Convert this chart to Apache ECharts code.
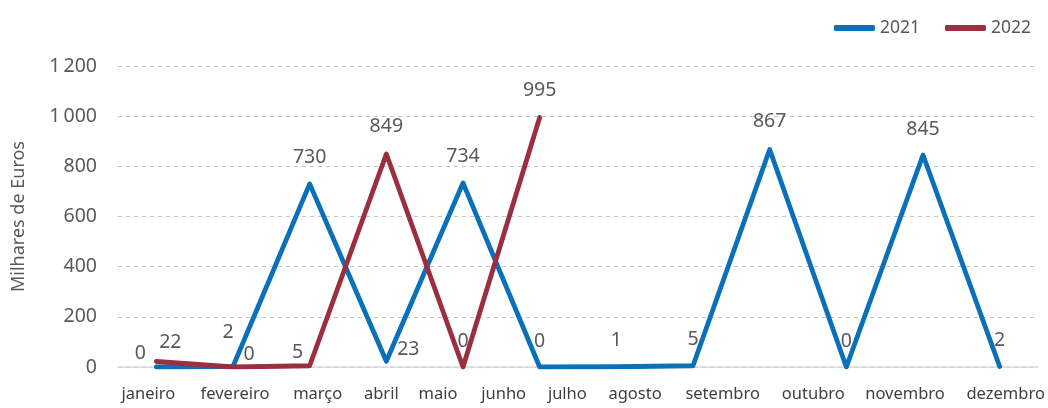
<!DOCTYPE html>
<html>
<head>
<meta charset="utf-8">
<script src="https://cdn.jsdelivr.net/npm/echarts@6/dist/echarts.min.js"></script>
<style>
  html, body { margin: 0; padding: 0; background: #fff; }
  #chart { width: 1048px; height: 408px; }
</style>
</head>
<body>
<div id="chart"></div>
<script>
// dados do gráfico
const meses = ['janeiro', 'fevereiro', 'março', 'abril', 'maio', 'junho',
  'julho', 'agosto', 'setembro', 'outubro', 'novembro', 'dezembro'];
const valores2021 = [0, 2, 730, 23, 734, 0, 1, 5, 867, 0, 845, 2];
const valores2022 = [22, 0, 5, 849, 0, 995];
const yTicks = [0, 200, 400, 600, 800, 1000, 1200];

// deslocamentos das etiquetas (só estilo)
const offsets2021 = [[-16, 12], [-5, -8], [0, 0], [22, 14], [0, 0], [0, 0],
  [0, 0], [0, 0], [0, -2], [0, 0], [0, 0], [0, 0]];
const offsets2022 = [[14, 7], [16, 13], [-12, 13], [0, -2], [0, 0], [0, -1]];
const labelShift = [-8, 2, 8, -5, -25, -36, -49, -58, -47, -33, -18, 6];

const azul = '#0A70B9';
const vermelho = '#9B2F3D';
const font = 'Noto Sans';

const rich = {};
labelShift.forEach((s, i) => {
  rich['s' + i] = {
    fontFamily: font, fontSize: 16.5, color: '#404040',
    padding: s >= 0 ? [0, 0, 0, 2 * s] : [0, -2 * s, 0, 0]
  };
});

function pontos(vals, offs) {
  return vals.map((v, i) => ({value: v, label: {offset: offs[i]}}));
}

const myChart = echarts.init(document.getElementById('chart'));
const option = {
  animation: false,
  textStyle: {fontFamily: font},
  legend: {
    top: 14,
    right: 12,
    itemWidth: 41,
    itemHeight: 6,
    itemGap: 25,
    icon: 'roundRect',
    textStyle: {fontSize: 17.5, color: '#595959', fontFamily: font},
    data: ['2021', '2022']
  },
  grid: {left: 118, right: 10, top: 66, bottom: 41},
  xAxis: {
    type: 'category',
    data: meses,
    boundaryGap: true,
    axisLine: {lineStyle: {color: '#D9D9D9', width: 1.5}},
    axisTick: {show: false},
    axisLabel: {
      interval: 0,
      margin: 19,
      formatter: (v, i) => '{s' + i + '|' + v + '}',
      rich: rich
    }
  },
  yAxis: {
    type: 'value',
    min: yTicks[0],
    max: yTicks[yTicks.length - 1],
    interval: 200,
    name: 'Milhares de Euros',
    nameLocation: 'middle',
    nameGap: 90,
    nameTextStyle: {fontSize: 18, color: '#595959', fontFamily: font},
    axisLine: {show: false},
    axisTick: {show: false},
    axisLabel: {
      margin: 21,
      fontSize: 19.5,
      color: '#595959',
      formatter: v => String(v).replace(/\B(?=(\d{3})+(?!\d))/g, '\u2009')
    },
    splitLine: {lineStyle: {color: '#C4C4C4', type: [4, 4]}}
  },
  series: [
    {
      name: '2021',
      type: 'line',
      data: pontos(valores2021, offsets2021),
      symbol: 'circle',
      symbolSize: 0.1,
      color: azul,
      lineStyle: {width: 4.8, color: azul, join: 'round', cap: 'round'},
      label: {show: true, position: 'top', distance: 16, fontSize: 19.5, color: '#595959'},
      z: 2
    },
    {
      name: '2022',
      type: 'line',
      data: pontos(valores2022, offsets2022),
      symbol: 'circle',
      symbolSize: 0.1,
      color: vermelho,
      lineStyle: {width: 4.8, color: vermelho, join: 'round', cap: 'round'},
      label: {show: true, position: 'top', distance: 16, fontSize: 19.5, color: '#595959'},
      z: 3
    }
  ]
};
option && myChart.setOption(option);
</script>
</body>
</html>
